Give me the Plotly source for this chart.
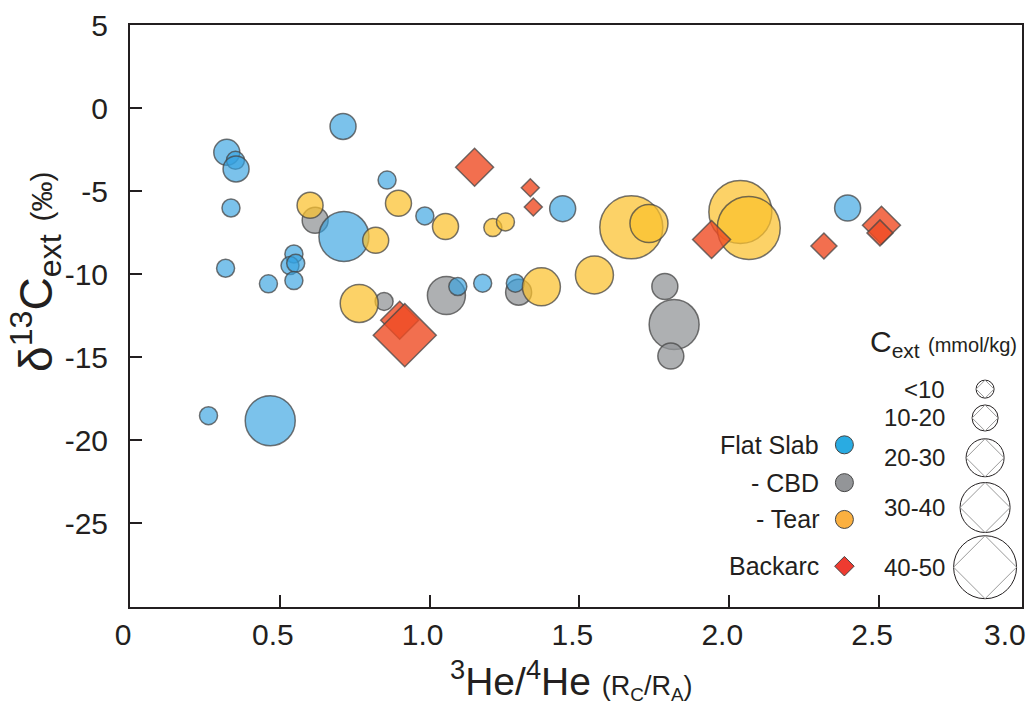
import plotly.graph_objects as go

# ---------------- data ----------------
# 3He/4He (Rc/RA), d13C_ext (permil), C_ext (mmol/kg, estimated bin midpoints)
flat_x = [0.711, 0.323, 0.352, 0.354, 0.337, 0.858, 0.714, 0.984, 0.319, 0.547, 0.534,
          0.553, 0.547, 0.462, 1.094, 1.177, 1.286, 1.444, 2.395, 0.262, 0.468]
flat_y = [-1.11, -2.67, -3.15, -3.67, -6.02, -4.34, -7.74, -6.50, -9.65, -8.79, -9.49,
          -9.35, -10.39, -10.59, -10.75, -10.55, -10.55, -6.06, -6.02, -18.53, -18.83]
flat_c = [15, 15, 5, 15, 5, 5, 35, 5, 5, 5, 5,
          5, 5, 5, 5, 5, 5, 15, 15, 5, 35]

cbd_x = [0.618, 0.848, 1.056, 1.297, 1.785, 1.816, 1.805]
cbd_y = [-6.76, -11.65, -11.29, -11.09, -10.75, -13.04, -14.94]
cbd_c = [15, 5, 25, 15, 15, 35, 15]

tear_x = [0.601, 0.820, 0.896, 1.053, 0.765, 1.373, 1.550, 1.211, 1.253, 1.673, 1.732, 2.037, 2.065]
tear_y = [-5.86, -7.97, -5.74, -7.14, -11.77, -10.77, -10.05, -7.20, -6.86, -7.18, -6.96, -6.26, -7.22]
tear_c = [15, 15, 15, 15, 25, 25, 25, 5, 5, 45, 25, 45, 45]

back_x = [1.150, 1.336, 1.346, 1.941, 2.316, 2.508, 2.503, 0.900, 0.917]
back_y = [-3.57, -4.80, -5.96, -7.92, -8.31, -7.06, -7.52, -12.78, -13.68]
back_c = [25, 5, 5, 25, 15, 25, 15, 25, 45]

group_names = ["Flat Slab", "- CBD", "- Tear", "Backarc"]
size_labels = ["<10", "10-20", "20-30", "30-40", "40-50"]

x_ticks = [0, 0.5, 1.0, 1.5, 2.0, 2.5]
x_ticktext = ["0", "0.5", "1.0", "1.5", "2.0", "2.5"]
y_ticks = [5, 0, -5, -10, -15, -20, -25]
y_ticktext = ["5", "0", "-5", "-10", "-15", "-20", "-25"]

# ---------------- style ----------------
FONT = "Liberation Sans, Arial, Helvetica, sans-serif"
TXT = "#231f20"
SIZE_DIAM = [18, 26, 38, 50, 63]      # marker diameter per concentration bin (px)
DIAMOND_K = 1.3                        # plotly diamond diagonal = 1.3 * size


def diam(c):
    return SIZE_DIAM[min(int(c // 10), 4)]


OUTLINE = dict(color="rgba(70,70,70,0.75)", width=1.5)

fig = go.Figure()

series = [
    (cbd_x, cbd_y, cbd_c, "rgba(147,149,152,0.75)", "circle"),
    (flat_x, flat_y, flat_c, "rgba(52,161,224,0.65)", "circle"),
    (tear_x, tear_y, tear_c, "rgba(251,192,45,0.72)", "circle"),
    (back_x, back_y, back_c, "rgba(239,75,35,0.8)", "diamond"),
]
for xs, ys, cs, col, sym in series:
    sizes = [diam(c) / (DIAMOND_K if sym == "diamond" else 1) for c in cs]
    fig.add_trace(go.Scatter(
        x=xs, y=ys, mode="markers", showlegend=False, hoverinfo="skip",
        marker=dict(size=sizes, color=col, symbol=sym, line=OUTLINE, opacity=1),
        cliponaxis=False,
    ))

# ---------------- custom legends (overlay axes 0..1 over plot area) ----------------
L, T, PW, PH = 130, 22, 894, 585


def px2p(px, py):
    return (px - L) / PW, (T + PH - py) / PH


row_y = [444, 482, 519, 566]
leg_cols = ["#29abe2", "#939598", "#fbb040", "#ee3b30"]
leg_syms = ["circle", "circle", "circle", "diamond"]
for name, ry, col, sym in zip(group_names, row_y, leg_cols, leg_syms):
    mx, my = px2p(846, ry)
    fig.add_trace(go.Scatter(
        x=[mx], y=[my], xaxis="x2", yaxis="y2", mode="markers", showlegend=False,
        hoverinfo="skip", cliponaxis=False,
        marker=dict(size=18 if sym == "circle" else 15, color=col, symbol=sym,
                    opacity=1, line=dict(color="#444", width=1)),
    ))
    tx, ty = px2p(823, ry)
    fig.add_annotation(x=tx, y=ty, xref="paper", yref="paper", text=name,
                       showarrow=False, xanchor="right", yanchor="middle",
                       font=dict(family=FONT, size=25, color=TXT))

size_row_y = [388, 417, 457, 507, 567]
for lab, ry, d in zip(size_labels, size_row_y, SIZE_DIAM):
    mx, my = px2p(987, ry)
    fig.add_trace(go.Scatter(
        x=[mx], y=[my], xaxis="x2", yaxis="y2", mode="markers", showlegend=False,
        hoverinfo="skip", cliponaxis=False,
        marker=dict(size=d, color="rgba(0,0,0,0)", symbol="circle", opacity=1,
                    line=dict(color="#231f20", width=1)),
    ))
    fig.add_trace(go.Scatter(
        x=[mx], y=[my], xaxis="x2", yaxis="y2", mode="markers", showlegend=False,
        hoverinfo="skip", cliponaxis=False,
        marker=dict(size=d / DIAMOND_K, color="rgba(0,0,0,0)", symbol="diamond",
                    opacity=1, line=dict(color="#9a9a9a", width=1)),
    ))
    tx, ty = px2p(949, ry)
    fig.add_annotation(x=tx, y=ty, xref="paper", yref="paper", text=lab,
                       showarrow=False, xanchor="right", yanchor="middle",
                       font=dict(family=FONT, size=24, color=TXT))

cx, cy = px2p(870, 342)
fig.add_annotation(x=cx, y=cy, xref="paper", yref="paper",
                   text="C<sub>ext</sub> <span style='font-size:20px'>(mmol/kg)</span>",
                   showarrow=False, xanchor="left", yanchor="middle",
                   font=dict(family=FONT, size=30, color=TXT))

# "3.0" end label (placed at the right edge as in the reference)
lx, ly = px2p(1007, 616)
fig.add_annotation(x=lx, y=ly, xref="paper", yref="paper", text="3.0",
                   showarrow=False, xanchor="center", yanchor="top",
                   font=dict(family=FONT, size=30, color=TXT))

# axis titles
ax, ay = px2p(572, 680)
fig.add_annotation(x=ax, y=ay, xref="paper", yref="paper",
                   text="<sup>3</sup>He/<sup>4</sup>He <span style='font-size:27px'>(R<sub>C</sub>/R<sub>A</sub>)</span>",
                   showarrow=False, xanchor="center", yanchor="middle",
                   font=dict(family=FONT, size=39, color=TXT))
bx, by = px2p(36, 270)
fig.add_annotation(x=bx, y=by, xref="paper", yref="paper", textangle=-90,
                   text="δ<sup>13</sup>C<sub>ext</sub> <span style='font-size:30px'>(‰)</span>",
                   showarrow=False, xanchor="center", yanchor="middle",
                   font=dict(family=FONT, size=46, color=TXT))

axis_common = dict(showgrid=False, zeroline=False, ticks="inside", ticklen=12,
                   tickwidth=1.5, tickcolor=TXT, showline=True, linewidth=2,
                   linecolor=TXT, mirror=True,
                   tickfont=dict(family=FONT, size=30, color=TXT))

fig.update_layout(
    width=1032, height=708,
    margin=dict(l=L, r=1032 - L - PW, t=T, b=708 - T - PH),
    paper_bgcolor="white", plot_bgcolor="white",
    showlegend=False,
    xaxis=dict(range=[0, 2.977], tickvals=x_ticks, ticktext=x_ticktext,
               ticklabelstandoff=0, ticklabelshift=-7, **axis_common),
    yaxis=dict(range=[-30.05, 5.0], tickvals=y_ticks, ticktext=y_ticktext,
               ticklabelstandoff=14, **axis_common),
    xaxis2=dict(overlaying="x", range=[0, 1], visible=False, anchor="y2"),
    yaxis2=dict(overlaying="y", range=[0, 1], visible=False, anchor="x2"),
)

fig.write_html("out.html")
